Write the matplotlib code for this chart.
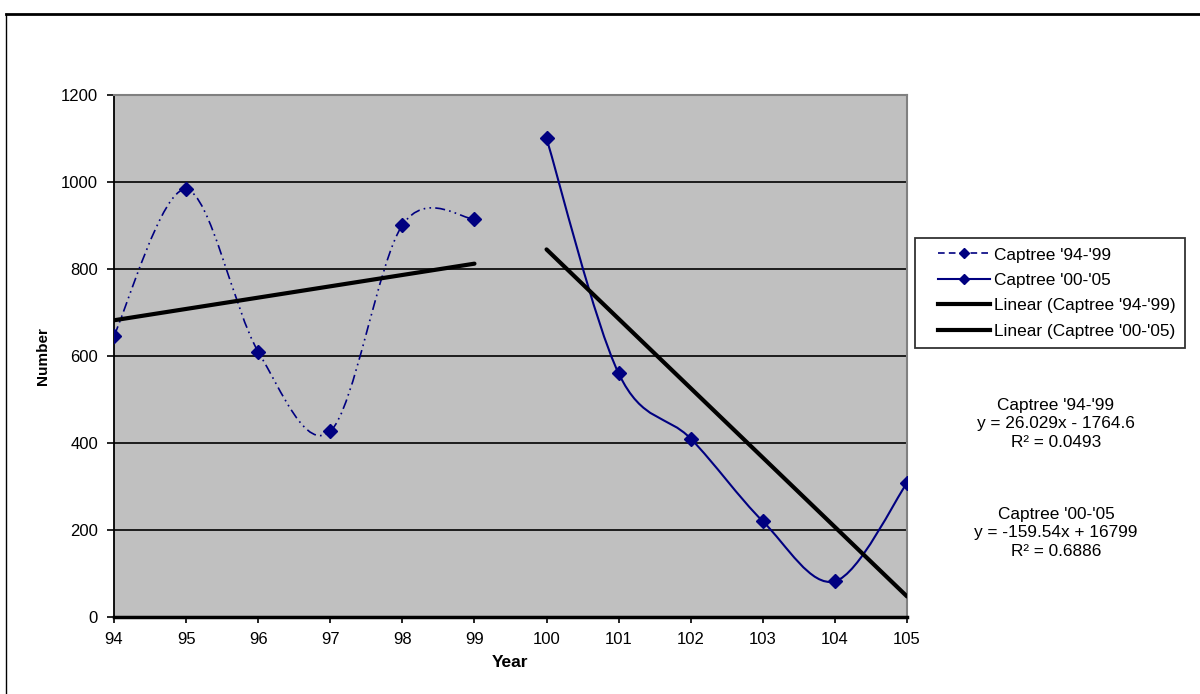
import numpy as np
import matplotlib
matplotlib.use("Agg")
import matplotlib.pyplot as plt
from matplotlib.path import Path
from matplotlib.patches import PathPatch
from matplotlib.lines import Line2D
from matplotlib.legend_handler import HandlerLine2D

plt.rcParams['font.family'] = ['Liberation Sans', 'DejaVu Sans']

# Captree counts by year (two survey periods)
years_a = [94, 95, 96, 97, 98, 99]
counts_a = [647, 983, 610, 427, 901, 915]
years_b = [100, 101, 102, 103, 104, 105]
counts_b = [1100, 560, 410, 220, 82, 308]

# linear trend coefficients (slope, intercept, r squared)
fit_a = [26.029, -1764.6, 0.0493]
fit_b = [-159.54, 16799, 0.6886]

names = ["Captree '94-'99", "Captree '00-'05"]
navy = '#000080'


def smooth_path(xs, ys):
    # bezier curve through the points, like a spreadsheet "smoothed line"
    pts = np.column_stack([xs, ys]).astype(float)
    n = len(pts)
    verts = [pts[0]]
    codes = [Path.MOVETO]
    for i in range(n - 1):
        p0 = pts[i - 1] if i > 0 else pts[i]
        p1 = pts[i]
        p2 = pts[i + 1]
        p3 = pts[i + 2] if i + 2 < n else pts[i + 1]
        verts += [p1 + (p2 - p0) / 6, p2 - (p3 - p1) / 6, p2]
        codes += [Path.CURVE4] * 3
    return Path(verts, codes)


class InsetHandler(HandlerLine2D):
    # legend line that starts a little in from the frame
    def create_artists(self, legend, orig_handle, xdescent, ydescent,
                       width, height, fontsize, trans):
        pad = 0.2 * width
        return super().create_artists(legend, orig_handle, xdescent - pad, ydescent,
                                      width - pad, height, fontsize, trans)


fig = plt.figure(figsize=(12, 6.94), dpi=100)
ax = fig.add_axes([114 / 1200, 77 / 694, 793 / 1200, 522 / 694])
ax.set_facecolor('#C0C0C0')

# series lines
dashdot = (0, (6, 2.5, 1, 2.5, 1, 2.5))
ax.add_patch(PathPatch(smooth_path(years_a, counts_a), fill=False,
                       edgecolor=navy, lw=1.2, linestyle=dashdot, zorder=3))
ax.add_patch(PathPatch(smooth_path(years_b, counts_b), fill=False,
                       edgecolor=navy, lw=1.5, zorder=3))
ax.plot(years_a, counts_a, ls='none', marker='D', ms=7, color=navy, zorder=4)
ax.plot(years_b, counts_b, ls='none', marker='D', ms=7, color=navy, zorder=4)

# trend lines
xa = np.array([years_a[0], years_a[-1]])
xb = np.array([years_b[0], years_b[-1]])
ax.plot(xa, fit_a[0] * xa + fit_a[1], color='black', lw=3, solid_capstyle='round', zorder=5)
ax.plot(xb, fit_b[0] * xb + fit_b[1], color='black', lw=3, solid_capstyle='round', zorder=5)

ax.set_xlim(94, 105)
ax.set_ylim(0, 1200)
ax.set_xticks(range(94, 106))
ax.set_yticks(range(0, 1201, 200))
ax.yaxis.grid(True, color='black', lw=1.2)
ax.set_axisbelow(True)
ax.tick_params(axis='both', direction='out', width=1.2, labelsize=12, color='black')
ax.tick_params(axis='x', length=4, pad=6.5)
ax.tick_params(axis='y', length=5, pad=6.5)
ax.spines['left'].set_color('black')
ax.spines['left'].set_linewidth(1.3)
ax.spines['bottom'].set_color('black')
ax.spines['bottom'].set_linewidth(2.5)
ax.spines['top'].set_color('#808080')
ax.spines['top'].set_linewidth(1.5)
ax.spines['right'].set_color('#808080')
ax.spines['right'].set_linewidth(1.5)

ax.set_xlabel('Year', fontsize=12.5, fontweight='bold')
ax.set_ylabel('Number', fontsize=11, fontweight='bold')
ax.xaxis.set_label_coords(0.5, -0.073)
ax.yaxis.set_label_coords(-0.081, 0.5)

handles = [
    Line2D([], [], color=navy, lw=1.2, ls=(0, (4, 2.5)), marker='D', ms=5),
    Line2D([], [], color=navy, lw=1.5, marker='D', ms=5),
    Line2D([], [], color='black', lw=3),
    Line2D([], [], color='black', lw=3),
]
labels = names + ['Linear (%s)' % n for n in names]
leg = fig.legend(handles, labels, loc='upper left', bbox_to_anchor=(915 / 1200, 1 - 238 / 694),
                 fontsize=12.4, frameon=True, fancybox=False, edgecolor='black',
                 handlelength=3.8, handletextpad=0.25, borderpad=0.55, labelspacing=0.6,
                 borderaxespad=0, handler_map={Line2D: InsetHandler()})
leg.get_frame().set_linewidth(1.3)


def eq_text(fit):
    sign = '+' if fit[1] >= 0 else '-'
    return 'y = %gx %s %g\nR\u00b2 = %.4f' % (fit[0], sign, abs(fit[1]), fit[2])


fig.text(1056 / 1200, 1 - 424 / 694, names[0] + '\n' + eq_text(fit_a),
         ha='center', va='center', fontsize=12.4, linespacing=1.3)
fig.text(1056 / 1200, 1 - 533 / 694, names[1] + '\n' + eq_text(fit_b),
         ha='center', va='center', fontsize=12.4, linespacing=1.3)

# page frame around the chart
fig.add_artist(Line2D([6 / 1200, 1], [1 - 14 / 694, 1 - 14 / 694], color='black', lw=2))
fig.add_artist(Line2D([6 / 1200, 6 / 1200], [0, 1 - 14 / 694], color='black', lw=1))

fig.savefig('out.png', dpi=100)
